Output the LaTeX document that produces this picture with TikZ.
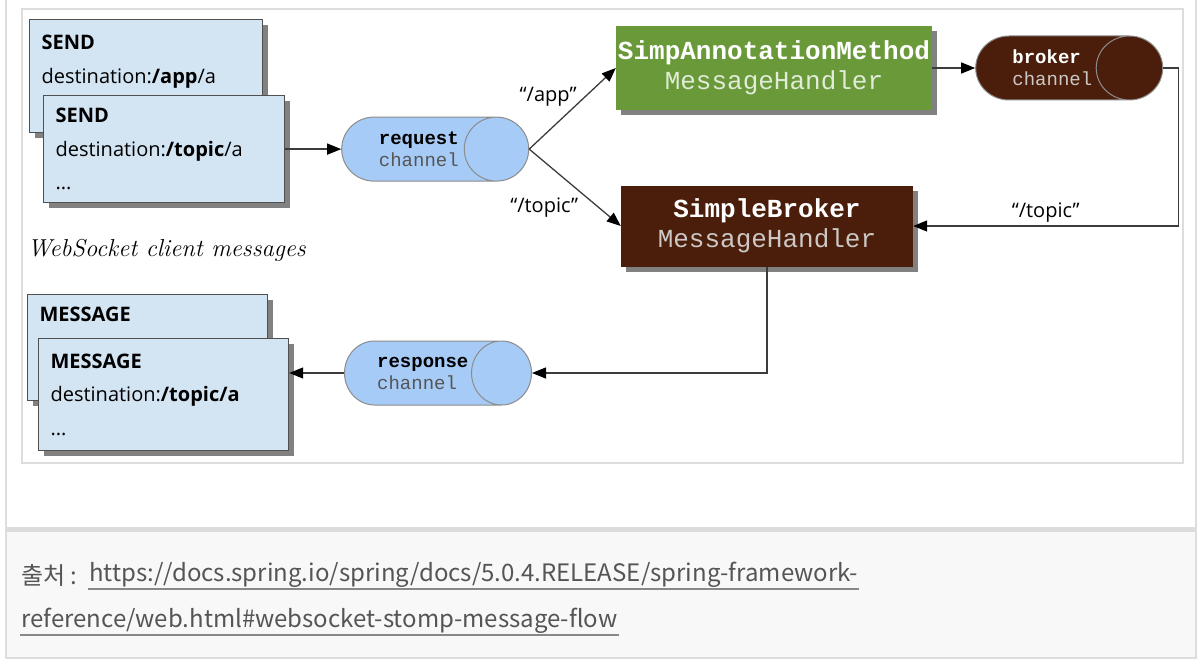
\documentclass[tikz,border=0pt]{standalone}
\usepackage{fontspec}
\usetikzlibrary{shapes.geometric,arrows.meta,positioning,shadows}

\newfontfamily\comicfont{Open Sans}
\newfontfamily\codefont{Liberation Mono}
\newfontfamily\krfont{Noto Sans CJK KR}

\definecolor{boxfill}{RGB}{211,228,243}
\definecolor{boxborder}{RGB}{80,80,80}
\definecolor{chanfill}{RGB}{166,203,246}
\definecolor{chanborder}{RGB}{140,140,140}
\definecolor{chantext}{RGB}{85,85,85}
\definecolor{handlergreen}{RGB}{105,153,57}
\definecolor{handlerbrown}{RGB}{74,30,10}
\definecolor{greentext}{RGB}{225,235,215}
\definecolor{browntext}{RGB}{205,200,198}
\definecolor{linegray}{RGB}{60,60,60}
\definecolor{framegray}{RGB}{221,221,221}
\definecolor{bandfill}{RGB}{248,248,248}
\definecolor{bandtop}{RGB}{220,220,220}
\definecolor{captext}{RGB}{85,85,85}

\begin{document}
\begin{tikzpicture}[
    x=1pt, y=-1pt,
    % message frames of the client
    msgbox/.style={
        rectangle,
        draw=boxborder,
        fill=boxfill,
        line width=1.2pt,
        align=left,
        text width=#1,
        inner xsep=12pt,
        inner ysep=0pt,
        font=\comicfont\fontsize{20}{33.5}\selectfont,
        drop shadow={shadow xshift=5pt, shadow yshift=-5pt, fill=black!55, opacity=.9}
    },
    % channels
    chan/.style={
        cylinder,
        draw=chanborder,
        line width=1pt,
        fill=chanfill,
        aspect=1.85,
        minimum height=187pt,
        minimum width=64pt,
        inner sep=0pt,
        align=left,
        font=\codefont\fontsize{19}{22}\selectfont
    },
    % message handlers
    handler/.style={
        rectangle,
        inner sep=0pt,
        align=center,
        text=white,
        font=\codefont\fontsize{26}{30}\selectfont,
        drop shadow={shadow xshift=5pt, shadow yshift=-5pt, fill=black!55, opacity=.9}
    },
    flow/.style={
        draw=linegray,
        line width=1.3pt,
        -{Triangle[length=14pt,width=11pt,color=black]}
    },
    tag/.style={font=\comicfont\fontsize{20}{24}\selectfont},
    link/.style={font=\krfont\fontsize{24}{28}\selectfont, text=captext, inner sep=1pt}
]
\useasboundingbox (0,0) rectangle (1202,666);

% Frames
\fill[bandfill] (6,527) rectangle (1196,658);
\fill[bandtop] (6,527) rectangle (1196,532);
\draw[framegray, line width=1.5pt] (6,0) -- (6,658) -- (1196,658) -- (1196,0);
\draw[framegray, line width=1.2pt] (22,9) rectangle (1183,463);

% Client messages
\node[msgbox=209pt, minimum height=113pt, anchor=north west] (send1) at (29,19)
    {\textbf{SEND}\\destination:\textbf{/app}/a\\\mbox{}};
\node[msgbox=217pt, minimum height=107pt, below right=76pt and 14pt of send1.north west] (send2)
    {\textbf{SEND}\\destination:\textbf{/topic}/a\\...};
\node[font=\itshape\fontsize{24.5}{28}\selectfont, anchor=west] (clientlabel) at (24,250)
    {WebSocket client messages};
\node[msgbox=216pt, minimum height=106pt, anchor=north west] (msg1) at (27,294)
    {\textbf{MESSAGE}\\\mbox{}\\\mbox{}};
\node[msgbox=226pt, minimum height=112pt, below right=44pt and 11pt of msg1.north west] (msg2)
    {\textbf{MESSAGE}\\destination:\textbf{/topic/a}\\...};

% Channels
\node[chan, right=56pt of send2] (request)
    {\textbf{request}\\{\color{chantext}channel}};
\node[chan, anchor=shape center] (response) at (438,373)
    {\textbf{response}\\{\color{chantext}channel}};

% Handlers
\node[handler, fill=handlergreen, minimum width=316pt, minimum height=84pt] (simpann) at (774,68)
    {\textbf{SimpAnnotationMethod}\\{\color{greentext}MessageHandler}};
\node[chan, fill=handlerbrown, text=white, right=43pt of simpann] (broker)
    {\textbf{broker}\\{\color{browntext}channel}};
\node[handler, fill=handlerbrown, minimum width=292pt, minimum height=81pt] (simplebroker) at (767,226)
    {\textbf{SimpleBroker}\\{\color{browntext}MessageHandler}};

% Source
\node[link, anchor=west] (source) at (20,575) {출처 :};
\node[link, anchor=west] (url1) at (88,575)
    {https://docs.spring.io/spring/docs/5.0.4.RELEASE/spring-framework-};
\node[link, anchor=west] (url2) at (20,621)
    {reference/web.html\#websocket-stomp-message-flow};
\draw[captext!70, line width=1.2pt] (url1.south west) -- (url1.south east);
\draw[captext!70, line width=1.2pt] (url2.south west) -- (url2.south east);

% Connections
\draw[flow] (send2.east) -- (request.west);
\draw[flow] (request.east) -- node[tag, anchor=south east, xshift=8pt, yshift=-2pt] {“/app”} (simpann.west);
\draw[flow] (request.east) -- node[tag, anchor=north east, xshift=7pt, yshift=-6pt] {“/topic”} (simplebroker.west);
\draw[flow] (simpann.east) -- (broker.west);
\draw[flow] (broker.east) -- ++(15,0) |- node[tag, above, pos=0.75] {“/topic”} (simplebroker.east);
\draw[flow] (simplebroker.south) |- (response.east);
\draw[flow] (response.west) -- (response.west -| msg2.east);

\end{tikzpicture}
\end{document}
